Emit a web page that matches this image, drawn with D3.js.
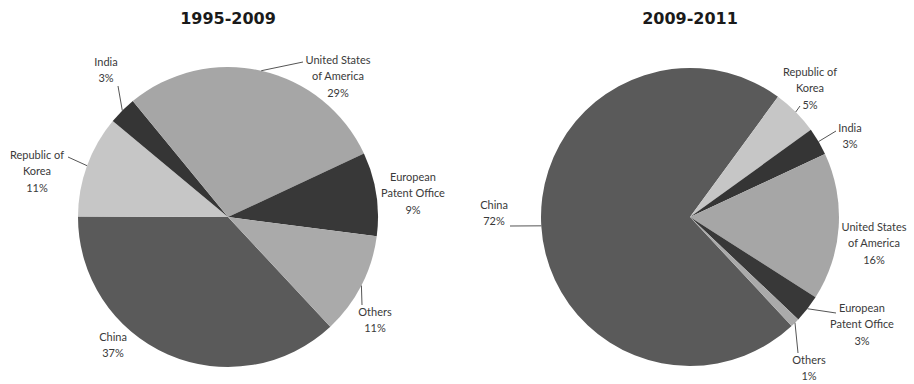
<!DOCTYPE html>
<html>
<head>
<meta charset="utf-8">
<script src="https://cdn.jsdelivr.net/npm/d3@7/dist/d3.min.js"></script>
<style>
  html, body { margin: 0; padding: 0; background: #fff; }
  svg { display: block; }
</style>
</head>
<body>
<script>
// ---- data ----
const categories = ["China", "Republic of Korea", "India", "United States of America", "European Patent Office", "Others"];
const labelLines = [["China"], ["Republic of", "Korea"], ["India"], ["United States", "of America"], ["European", "Patent Office"], ["Others"]];
const share1995_2009 = [37, 11, 3, 29, 9, 11];
const share2009_2011 = [72, 5, 3, 16, 3, 1];
const titles = ["1995-2009", "2009-2011"];

// ---- style / layout ----
const W = 914, H = 384;
const colors = ["#5a5a5a", "#c6c6c6", "#353535", "#a6a6a6", "#383838", "#aaaaaa"];
const startDeg = 137;
const lineGap = 16.5;

// label layout per pie: [dx, dy] of first text line centre relative to pie centre, leader start offset (or null)
const layouts = [
  { cx: 228, cy: 217, r: 150, tx: 228, ty: 18,
    labels: [
      { t: [-115, 120], lead: null },
      { t: [-191, -62], lead: [-160, -60] },
      { t: [-122, -155], lead: [-110, -131] },
      { t: [110, -157], lead: [75, -155] },
      { t: [185, -40], lead: null },
      { t: [147, 95], lead: [134, 88] }
    ] },
  { cx: 690, cy: 217, r: 149, tx: 690, ty: 18,
    labels: [
      { t: [-196, -12], lead: [-180, 9] },
      { t: [120, -145], lead: [110, -111] },
      { t: [160, -89], lead: [146, -86] },
      { t: [184, 10], lead: null },
      { t: [172, 91], lead: [146, 96] },
      { t: [119, 143], lead: [108, 136] }
    ] }
];
const datasets = [share1995_2009, share2009_2011];

const svg = d3.select("body").append("svg").attr("width", W).attr("height", H);

const pie = d3.pie().sort(null).value(d => d)
  .startAngle(startDeg * Math.PI / 180)
  .endAngle(startDeg * Math.PI / 180 + 2 * Math.PI);

datasets.forEach((vals, pi) => {
  const L = layouts[pi];
  const g = svg.append("g").attr("transform", `translate(${L.cx},${L.cy})`);
  const arcs = pie(vals);
  const arc = d3.arc().innerRadius(0).outerRadius(L.r);
  const edge = d3.arc().innerRadius(L.r).outerRadius(L.r);

  g.selectAll("path.slice").data(arcs).enter().append("path")
    .attr("class", "slice")
    .attr("d", arc)
    .attr("fill", (d, i) => colors[i]);

  // leader lines
  arcs.forEach((d, i) => {
    const lab = L.labels[i];
    if (!lab.lead) return;
    const c = edge.centroid(d);
    g.append("line")
      .attr("x1", lab.lead[0]).attr("y1", lab.lead[1])
      .attr("x2", c[0]).attr("y2", c[1])
      .attr("stroke", "#555").attr("stroke-width", 1);
  });

  // labels
  arcs.forEach((d, i) => {
    const lab = L.labels[i];
    const lines = labelLines[i].concat([vals[i] + "%"]);
    const t = g.append("text")
      .attr("text-anchor", "middle")
      .attr("font-family", "Lato, 'Open Sans', sans-serif")
      .attr("font-size", 11)
      .attr("fill", "#3a3a3a");
    lines.forEach((s, k) => {
      t.append("tspan")
        .attr("x", lab.t[0])
        .attr("y", lab.t[1] + k * lineGap)
        .attr("dy", "0.35em")
        .text(s);
    });
  });

  svg.append("text")
    .attr("x", L.tx).attr("y", L.ty)
    .attr("dy", "0.35em")
    .attr("text-anchor", "middle")
    .attr("font-family", "'DejaVu Sans', sans-serif")
    .attr("font-weight", "bold")
    .attr("font-size", 16)
    .attr("fill", "#1a1a1a")
    .text(titles[pi]);
});
</script>
</body>
</html>
